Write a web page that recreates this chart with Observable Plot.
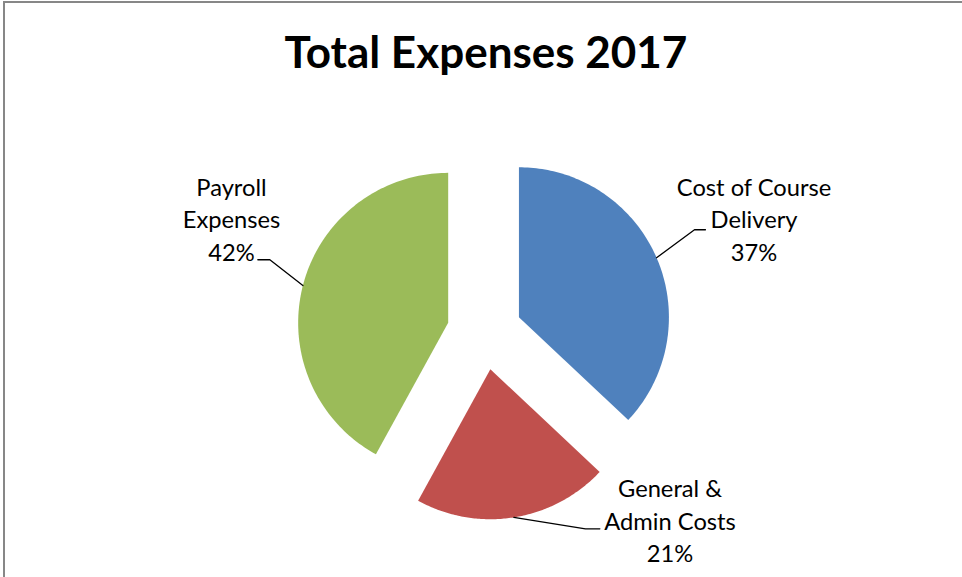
<!DOCTYPE html>
<html>
<head>
<meta charset="utf-8">
<script src="https://cdn.jsdelivr.net/npm/d3@7"></script>
<script src="https://cdn.jsdelivr.net/npm/@observablehq/plot@0.6"></script>
<style>
  html, body { margin: 0; padding: 0; background: #fff; overflow: hidden; }
  #wrap { position: relative; width: 962px; height: 577px; overflow: hidden; background: #fff; }
  #frame { position: absolute; left: 3px; top: 1px; width: 1000px; height: 700px;
           border-left: 2px solid #878787; border-top: 2px solid #878787; box-sizing: border-box; }
  #title { position: absolute; left: 5px; top: 29px; width: 962px; text-align: center;
           font-family: Lato, sans-serif; font-weight: bold; font-size: 44px; line-height: 1; color: #000; }
  #chart { position: absolute; left: 0; top: 0; }
</style>
</head>
<body>
<div id="wrap">
  <div id="chart"></div>
  <div id="frame"></div>
  <div id="title">Total Expenses 2017</div>
</div>
<script>
// ---- data ----
const categories = ["Cost of Course Delivery", "General & Admin Costs", "Payroll Expenses"];
const values = [37, 21, 42];
const labelNames = ["Cost of Course\nDelivery", "General &\nAdmin Costs", "Payroll\nExpenses"];

// ---- style / layout (not data) ----
const sliceColors = ["#4F81BD", "#C0504D", "#9BBB59"];
const explode = 0.25; // fraction of radius
// label placement in pie-radius units relative to pie centre (annotation layout)
const labelLayout = [
  {text: [1.797, -0.478], knee: [1.400, -0.683], end: [1.473, -0.683]},
  {text: [1.237, 1.533], knee: [0.673, 1.311], end: [0.769, 1.311]},
  {text: [-1.687, -0.478], knee: [-1.431, -0.483], end: [-1.511, -0.483]}
];

const total = d3.sum(values);
const arcs = d3.pie().sort(null)(values);
const dir = a => [Math.sin(a), -Math.cos(a)];

const slices = arcs.map((a, i) => {
  const mid = (a.startAngle + a.endAngle) / 2;
  const [ox, oy] = dir(mid).map(v => v * explode);
  const ring = [[ox, oy]];
  const n = 120;
  for (let k = 0; k <= n; ++k) {
    const t = a.startAngle + (a.endAngle - a.startAngle) * k / n;
    const [dx, dy] = dir(t);
    ring.push([ox + dx, oy + dy]);
  }
  ring.push([ox, oy]);
  return {type: "Feature", properties: {category: categories[i]}, geometry: {type: "Polygon", coordinates: [ring]}};
});

const leaders = [];
arcs.forEach((a, i) => {
  const mid = (a.startAngle + a.endAngle) / 2;
  const [sx, sy] = dir(mid).map(v => v * (1 + explode));
  const L = labelLayout[i];
  leaders.push({id: i, x: sx, y: sy});
  leaders.push({id: i, x: L.knee[0], y: L.knee[1]});
  leaders.push({id: i, x: L.end[0], y: L.end[1]});
});

const labels = arcs.map((a, i) => ({
  x: labelLayout[i].text[0],
  y: labelLayout[i].text[1],
  text: `${labelNames[i]}\n${Math.round(values[i] / total * 100)}%`
}));

const plot = Plot.plot({
  width: 962,
  height: 577,
  marginLeft: 244,
  marginRight: 238,
  marginTop: 91.7,
  marginBottom: 5.3,
  style: {background: "transparent", fontFamily: "Lato, sans-serif"},
  projection: {
    type: "identity",
    domain: {type: "MultiPoint", coordinates: [[-1.6, -1.6], [1.6, 1.6]]},
    clip: false
  },
  color: {domain: categories, range: sliceColors},
  marks: [
    Plot.geo(slices, {fill: d => d.properties.category, stroke: "none"}),
    Plot.line(leaders, {x: "x", y: "y", z: "id", stroke: "#000", strokeWidth: 1.3, curve: "linear"}),
    Plot.text(labels, {
      x: "x", y: "y", text: "text",
      textAnchor: "middle", lineAnchor: "bottom", lineHeight: 1.37,
      fontSize: 23.7, fontFamily: "Lato, sans-serif", fill: "#000"
    })
  ]
});
document.getElementById("chart").appendChild(plot);
</script>
</body>
</html>
